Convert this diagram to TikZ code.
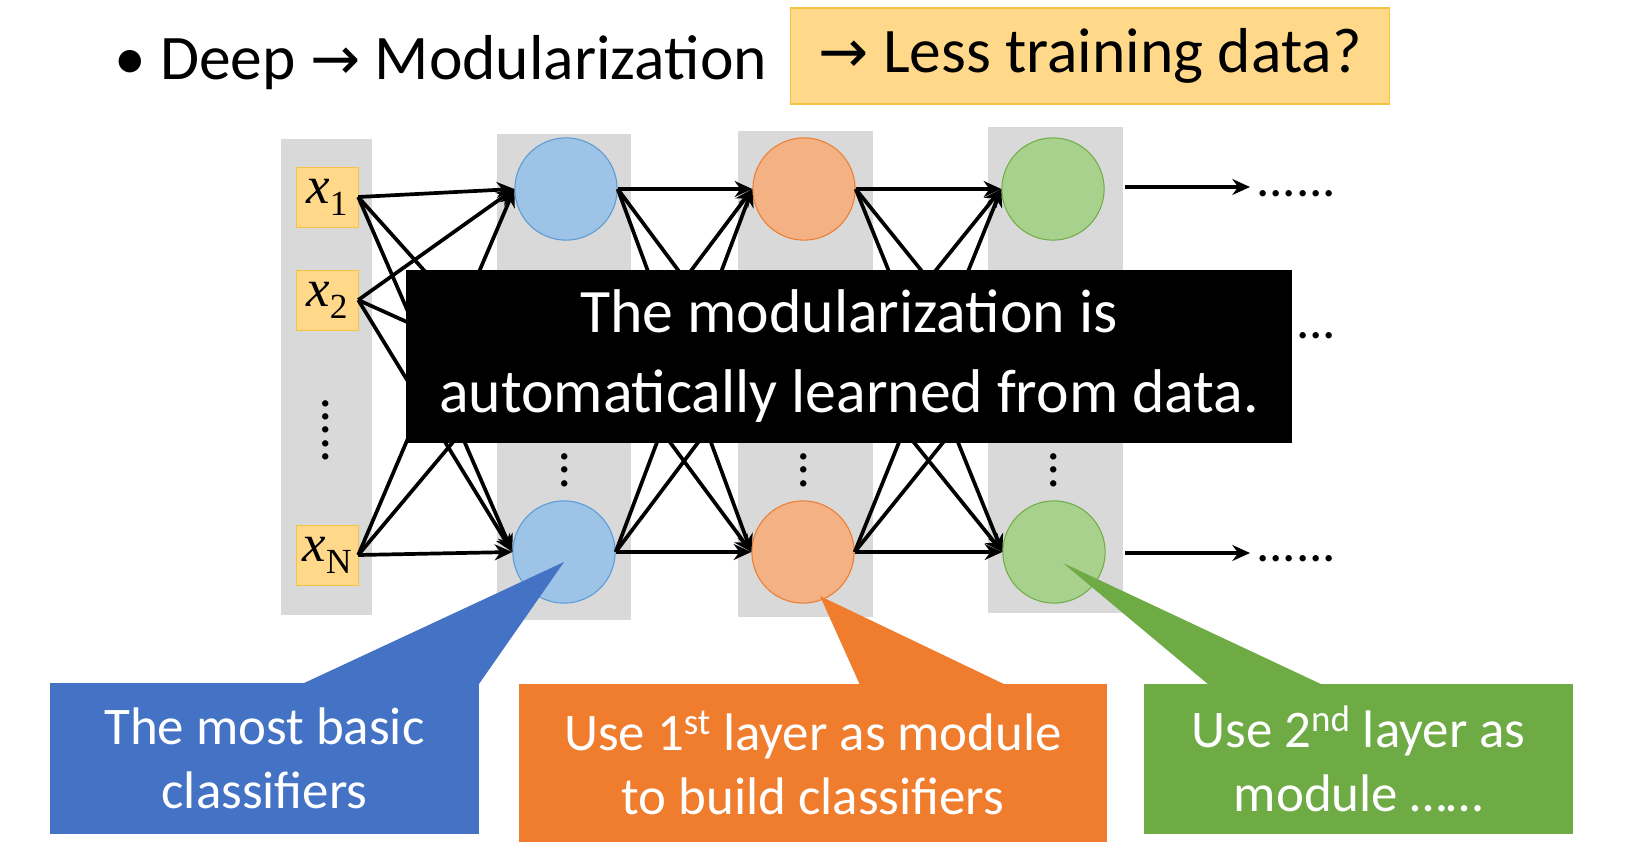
\documentclass[tikz,border=0pt]{standalone}
\usepackage{fontspec}
\setmainfont{Carlito}
\newfontfamily\tms{Liberation Serif}
\newfontfamily\dvs{DejaVu Sans}
\usetikzlibrary{arrows.meta}
\definecolor{gcol}{HTML}{D9D9D9}
\definecolor{bfill}{HTML}{9DC3E6}\definecolor{bline}{HTML}{5B9BD5}
\definecolor{ofill}{HTML}{F4B183}\definecolor{oline}{HTML}{ED7D31}
\definecolor{gfill}{HTML}{A9D18E}\definecolor{gline}{HTML}{70AD47}
\definecolor{ybox}{HTML}{FFD88A}\definecolor{yline}{HTML}{F5C242}
\definecolor{cblue}{HTML}{4472C4}\definecolor{corange}{HTML}{F07C2E}\definecolor{cgreen}{HTML}{6EAB45}
\newcommand{\rarr}{{\dvs\fontsize{34}{34}\selectfont →}}
\newcommand{\xv}[1]{{\tms\itshape x}\raisebox{-0.5ex}{\tms\fontsize{20}{20}\selectfont #1}}
\tikzset{
 col/.style={fill=gcol,draw=none},
 xin/.style={draw=yline,fill=ybox,minimum width=35pt,minimum height=34pt,inner sep=0pt,font=\tms\fontsize{30}{30}\selectfont},
 neu/.style={circle,minimum size=58pt,inner sep=0pt,line width=0.6pt},
 hid/.style={circle,minimum size=58pt,inner sep=0pt},
 con/.style={line width=2.1pt,-{Stealth[length=10pt,width=9pt]}},
 vd/.style={font=\fontsize{30}{30}\selectfont},
 dots/.style={font=\fontsize{30}{30}\selectfont,anchor=west},
 callout/.style={text=white,align=center,font=\fontsize{30}{36}\selectfont},
}
\begin{document}
\begin{tikzpicture}[x=0.567pt,y=-0.567pt]
\useasboundingbox (0,0) rectangle (1626,858);
% heading
\node[anchor=west,font=\fontsize{36}{36}\selectfont] (head) at (108,63) {\textbullet\ Deep \rarr\ Modularization};
\node[draw=yline,fill=ybox,line width=0.8pt,minimum width=599*0.567pt,minimum height=96*0.567pt,font=\fontsize{36}{36}\selectfont] (less) at (1090,56) {\rarr\ Less training data?};
% columns
\fill[col] (281,139) rectangle (372,615);
\fill[col] (497,134) rectangle (631,620);
\fill[col] (738,131) rectangle (873,617);
\fill[col] (988,127) rectangle (1123,613);
% inputs
\node[xin] (x1) at (327,197) {\xv{1}};
\node[xin] (x2) at (327,300) {\xv{2}};
\node[xin] (xN) at (327,555) {\xv{N}};
\node[vd] (d0) at (326,430) {\rotatebox{90}{.....}};
% neurons
\node[neu,draw=bline,fill=bfill] (t1) at (566,189) {};
\node[neu,draw=bline,fill=bfill] (b1) at (564,552) {};
\node[neu,draw=oline,fill=ofill] (t2) at (804,189) {};
\node[neu,draw=oline,fill=ofill] (b2) at (803,552) {};
\node[neu,draw=gline,fill=gfill] (t3) at (1053,189) {};
\node[neu,draw=gline,fill=gfill] (b3) at (1054,552) {};
\node[hid] (m1) at (565,370) {};
\node[hid] (m2) at (804,370) {};
\node[hid] (m3) at (1053,370) {};
\node[vd] (d1) at (565,470) {\rotatebox{90}{...}};
\node[vd] (d2) at (804,470) {\rotatebox{90}{...}};
\node[vd] (d3) at (1054,470) {\rotatebox{90}{...}};
% connections
\foreach \a in {x1,x2,xN}{\foreach \b in {t1,m1,b1}{\draw[con] (\a.east) -- (\b.west);}}
\foreach \a/\l in {t1/2,m1/2,b1/2,t2/3,m2/3,b2/3}{\foreach \b in {t,m,b}{\draw[con] (\a.east) -- (\b\l.west);}}
% outputs
\node[dots] (o1) at (1250,194) {......};
\node[dots] (o2) at (1250,336) {......};
\node[dots] (o3) at (1250,559) {......};
\coordinate (s1) at (1125,187);
\coordinate (s3) at (1125,553);
\draw[con] (s1) -- (s1-|o1.west);
\draw[con] (m3.east) -- (m3.east-|o2.west);
\draw[con] (s3) -- (s3-|o3.west);
% black box
\node[fill=black,text=white,align=center,minimum width=886*0.567pt,minimum height=173*0.567pt,font=\fontsize{35}{45}\selectfont] (bb) at (849,356) {The modularization is\\automatically learned from data.};
% callouts
\fill[cblue] (302,684) -- (564,562) -- (479,684) -- cycle;
\node[fill=cblue,callout,minimum width=429*0.567pt,minimum height=151*0.567pt] (c1) at (264.5,758.5) {The most basic\\classifiers};
\fill[corange] (860,685) -- (820,596) -- (1006,685) -- cycle;
\node[fill=corange,callout,minimum width=588*0.567pt,minimum height=158*0.567pt] (c2) at (813,763) {Use 1\textsuperscript{st} layer as module\\to build classifiers};
\fill[cgreen] (1209,685) -- (1063,563) -- (1323,685) -- cycle;
\node[fill=cgreen,callout,minimum width=429*0.567pt,minimum height=150*0.567pt] (c3) at (1358.5,759) {Use 2\textsuperscript{nd} layer as\\module ……};
\end{tikzpicture}
\end{document}
